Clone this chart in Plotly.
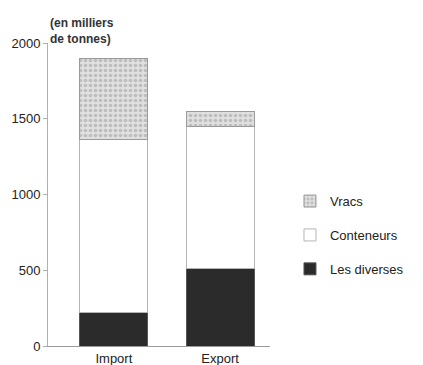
import plotly.graph_objects as go

categories = ["Import", "Export"]
diverses = [220, 510]
conteneurs = [1140, 940]
vracs = [540, 100]

font = "Liberation Sans, Arial, sans-serif"

fig = go.Figure()

fig.add_trace(go.Bar(x=categories, y=diverses, name="Les diverses", legendgroup="c", legendrank=3,
                     marker=dict(color="#2b2b2b", line=dict(color="#555555", width=1))))
fig.add_trace(go.Bar(x=categories, y=conteneurs, name="Conteneurs", legendgroup="b", legendrank=2,
                     marker=dict(color="white", line=dict(color="#b5b5b5", width=1))))
fig.add_trace(go.Bar(x=categories, y=vracs, name="Vracs", legendgroup="a", legendrank=1,
                     marker=dict(color="#e0e0e0", line=dict(color="#9a9a9a", width=1),
                                 pattern=dict(shape=".", fgcolor="#999999", bgcolor="#e0e0e0",
                                              size=5, solidity=0.4))))

# the page body adds an 8px margin, so the figure is drawn 8px smaller
fig.update_layout(
    barmode="stack",
    bargap=0.36,
    width=415, height=357,
    margin=dict(l=40, r=153, t=35, b=19, autoexpand=False),
    paper_bgcolor="white", plot_bgcolor="white",
    font=dict(family=font, size=13, color="#222222"),
    legend=dict(x=1.09, y=0.366, xanchor="left", yanchor="middle",
                traceorder="grouped", tracegroupgap=14,
                font=dict(size=13, color="#222222")),
    xaxis=dict(range=[-0.62, 1.47], showline=True, linecolor="#9a9a9a", linewidth=1,
               ticks="", showgrid=False, tickfont=dict(size=13), automargin=False),
    yaxis=dict(range=[0, 2000], tickvals=[0, 500, 1000, 1500, 2000],
               showline=True, linecolor="#b0b0b0", linewidth=1,
               ticks="outside", ticklen=4, tickcolor="#b0b0b0",
               showgrid=False, zeroline=False, tickfont=dict(size=13), automargin=False),
    annotations=[dict(text="<b>(en milliers<br>de tonnes)</b>", xref="paper", yref="paper",
                      x=0.0, y=0.985, xanchor="left", yanchor="bottom", align="left",
                      showarrow=False, font=dict(size=12, color="#333333"))],
)

fig.write_html("out.html")
